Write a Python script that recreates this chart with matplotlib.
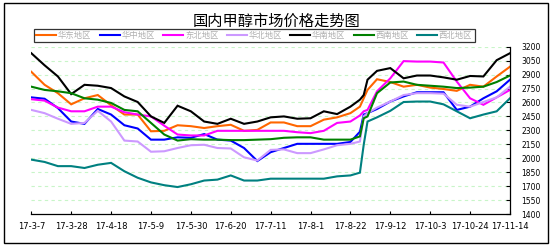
import matplotlib
matplotlib.use("Agg")
import matplotlib.pyplot as plt
import numpy as np
import pandas as pd
from matplotlib.patches import Rectangle

plt.rcParams['font.family'] = ['Noto Sans CJK SC', 'DejaVu Sans']

# weekly readings (2017), plus two extra days around the late-August jump
dates = ['2017-03-07', '2017-03-14', '2017-03-21', '2017-03-28', '2017-04-04',
         '2017-04-11', '2017-04-18', '2017-04-25', '2017-05-02', '2017-05-09',
         '2017-05-16', '2017-05-23', '2017-05-30', '2017-06-06', '2017-06-13',
         '2017-06-20', '2017-06-27', '2017-07-04', '2017-07-11', '2017-07-18',
         '2017-07-25', '2017-08-01', '2017-08-08', '2017-08-15', '2017-08-22',
         '2017-08-27', '2017-08-29', '2017-08-31', '2017-09-05', '2017-09-12',
         '2017-09-19', '2017-09-26', '2017-10-03', '2017-10-10', '2017-10-17',
         '2017-10-24', '2017-10-31', '2017-11-07', '2017-11-14']

huadong = [2930, 2790, 2700, 2580, 2645, 2680, 2570, 2470, 2470, 2290,
           2295, 2355, 2345, 2325, 2345, 2360, 2295, 2305, 2385, 2385,
           2345, 2345, 2415, 2440, 2485, 2555, 2645, 2735, 2850, 2820,
           2770, 2790, 2760, 2745, 2725, 2790, 2770, 2880, 2985]
huazhong = [2655, 2640, 2540, 2395, 2370, 2530, 2470, 2355, 2320, 2200,
            2200, 2225, 2220, 2260, 2200, 2190, 2110, 1970, 2065, 2110,
            2155, 2155, 2155, 2155, 2175, 2285, 2470, 2485, 2530, 2610,
            2665, 2710, 2710, 2710, 2520, 2555, 2645, 2720, 2845]
dongbei = [2635, 2620, 2545, 2505, 2505, 2555, 2555, 2495, 2470, 2450,
           2350, 2255, 2245, 2245, 2295, 2295, 2295, 2295, 2295, 2295,
           2280, 2270, 2295, 2380, 2395, 2460, 2505, 2520, 2720, 2860,
           3045, 3040, 3040, 3030, 2825, 2645, 2575, 2655, 2735]
huabei = [2520, 2485, 2425, 2370, 2380, 2510, 2395, 2190, 2180, 2070,
          2075, 2110, 2140, 2145, 2110, 2105, 2010, 1975, 2090, 2095,
          2055, 2055, 2095, 2140, 2155, 2180, 2450, 2485, 2545, 2610,
          2680, 2700, 2700, 2695, 2575, 2555, 2605, 2655, 2770]
huanan = [3130, 3000, 2880, 2690, 2790, 2780, 2755, 2665, 2605, 2450,
          2380, 2565, 2505, 2395, 2370, 2425, 2370, 2395, 2440, 2450,
          2425, 2430, 2505, 2475, 2555, 2630, 2680, 2845, 2940, 2970,
          2860, 2890, 2890, 2870, 2845, 2885, 2880, 3055, 3130]
xinan = [2770, 2735, 2720, 2700, 2645, 2630, 2595, 2520, 2505, 2380,
         2255, 2190, 2205, 2200, 2200, 2195, 2195, 2200, 2205, 2220,
         2225, 2225, 2200, 2200, 2200, 2235, 2430, 2450, 2700, 2815,
         2825, 2790, 2780, 2770, 2755, 2760, 2770, 2820, 2890]
xibei = [1985, 1960, 1915, 1915, 1895, 1930, 1950, 1860, 1790, 1740,
         1710, 1690, 1720, 1760, 1770, 1815, 1760, 1760, 1780, 1780,
         1780, 1780, 1780, 1805, 1815, 1845, 2145, 2395, 2440, 2510,
         2605, 2610, 2610, 2580, 2505, 2430, 2470, 2505, 2645]

names = ['华东地区', '华中地区', '东北地区', '华北地区', '华南地区', '西南地区', '西北地区']
colors = ['#ff6600', '#0000ff', '#ff00ff', '#cc99ff', '#000000', '#008000', '#008080']
tick_dates = pd.date_range('2017-03-07', '2017-11-14', freq='21D')
yticks = np.arange(1400, 3201, 150)

x = pd.to_datetime(dates)
series = [huadong, huazhong, dongbei, huabei, huanan, xinan, xibei]

fig = plt.figure(figsize=(5.53, 2.47), dpi=100)
ax = fig.add_axes([0.0566, 0.1336, 0.8656, 0.6773])

for vals, name, c in zip(series, names, colors):
    ax.plot(x, vals, color=c, lw=1.5, label=name, solid_joinstyle='miter')

ax.set_xlim(tick_dates[0], tick_dates[-1])
ax.set_ylim(1400, 3200)
ax.set_yticks(yticks)
ax.set_yticklabels([str(v) for v in yticks], fontsize=5.5, family='DejaVu Sans')
ax.set_xticks(tick_dates)
ax.set_xticklabels([f"{d.year % 100}-{d.month}-{d.day}" for d in tick_dates],
                   fontsize=6, family='DejaVu Sans')
ax.yaxis.tick_right()
ax.tick_params(axis='y', direction='in', length=3, width=0.8, pad=8)
ax.tick_params(axis='x', direction='in', length=2.5, width=0.8, pad=6)
for v in yticks[1:]:
    ax.axhline(v, color='#c8f5c8', lw=0.8, ls=(0, (3, 3)), zorder=0)
ax.spines['left'].set_visible(False)
ax.spines['top'].set_visible(False)
ax.spines['right'].set_linewidth(0.9)
ax.spines['bottom'].set_linewidth(0.9)

fig.text(0.5, 0.915, '国内甲醇市场价格走势图', ha='center', va='center', fontsize=11)
leg = fig.legend(ncol=7, loc='center', bbox_to_anchor=(0.46, 0.856), fontsize=6,
                 frameon=True, fancybox=False, edgecolor='black', labelcolor='#b0b0b0',
                 handlelength=2.4, handletextpad=0.2, columnspacing=1.0,
                 borderpad=0.25, borderaxespad=0)
leg.get_frame().set_linewidth(0.9)

fig.patches.append(Rectangle((4 / 553, 4 / 247), 544 / 553, 240 / 247, transform=fig.transFigure,
                             fill=False, edgecolor='black', lw=1))

fig.savefig('out.png', dpi=100)
